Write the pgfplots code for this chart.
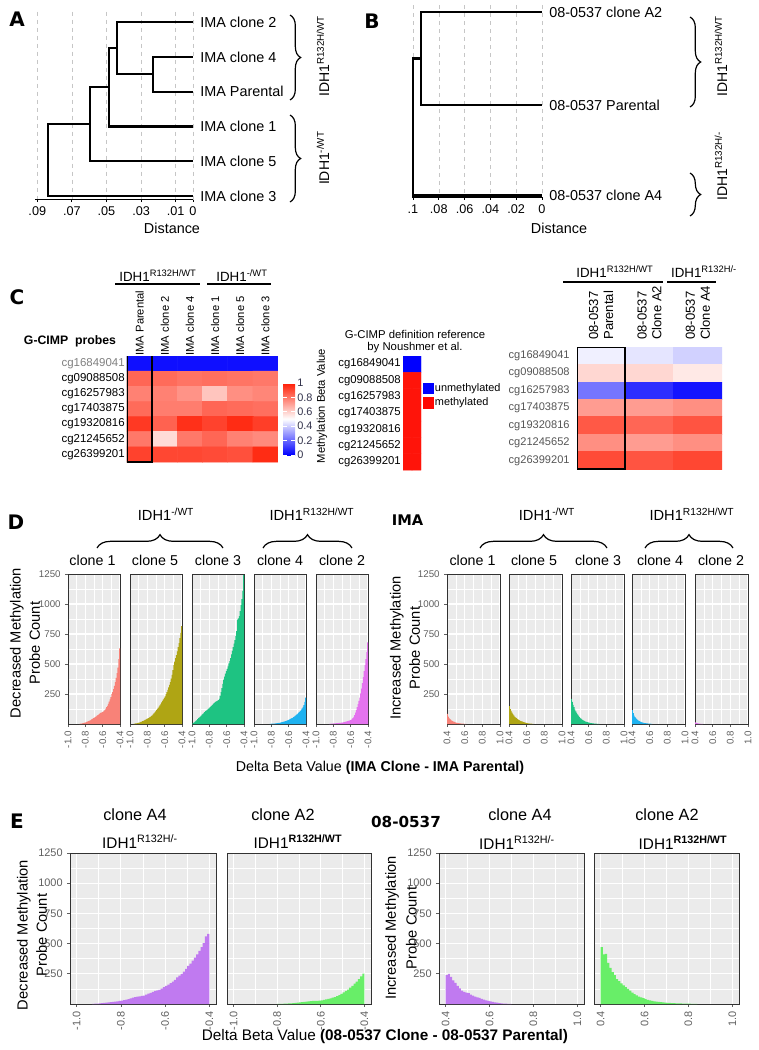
\documentclass[border=0pt]{standalone}
\usepackage{fontspec}
\setmainfont{Liberation Sans}
\newfontfamily\dejavu{DejaVu Sans}
\usepackage{pgfplots}
\pgfplotsset{compat=1.18}
\usetikzlibrary{decorations.pathreplacing}
\definecolor{ggbg}{RGB}{235,235,235}
\definecolor{ggframe}{RGB}{50,50,50}
\definecolor{ggtext}{RGB}{95,95,95}
\definecolor{cbtext}{RGB}{50,50,75}
\definecolor{rowgray}{RGB}{85,85,85}
\definecolor{c1}{RGB}{248,130,120}
\definecolor{c5}{RGB}{175,165,20}
\definecolor{c3}{RGB}{30,195,130}
\definecolor{c4}{RGB}{30,178,240}
\definecolor{c2}{RGB}{228,115,238}
\definecolor{cA4}{RGB}{192,122,240}
\definecolor{cA2}{RGB}{104,238,104}
\pgfplotsset{colormap={bwr}{rgb255=(0,0,255) rgb255=(255,255,255) rgb255=(255,30,5)}}
\pgfplotsset{colormap={refbr}{rgb255=(0,0,255) rgb255=(255,20,10)}}
\newcommand\fs[1]{\fontsize{#1}{#1}\selectfont}
\pgfplotsset{
 ggbase/.style={scale only axis, anchor=south west, axis background/.style={fill=ggbg},
   grid=both, major grid style={draw=white, line width=0.8pt}, minor grid style={draw=white, line width=0.4pt},
   axis line style={draw=ggframe, line width=0.7pt}, tick style={draw=ggtext, line width=0.5pt},
   tick align=outside, tick pos=left, major tick length=2pt, minor tick length=0pt, scaled ticks=false,
   ymin=0, ymax=1250, ytick={250,500,750,1000,1250}, minor ytick={125,375,625,875,1125},
   yticklabels={}, ytick style={draw=none}},
 decx/.style={xmin=-1, xmax=-0.4, xtick={-1,-0.8,-0.6,-0.4}, xticklabels={-1.0,-0.8,-0.6,-0.4}, minor xtick={-0.9,-0.7,-0.5}},
 incx/.style={xmin=0.4, xmax=1, xtick={0.4,0.6,0.8,1}, xticklabels={0.4,0.6,0.8,1.0}, minor xtick={0.5,0.7,0.9}},
 decxE/.style={xmin=-1.03, xmax=-0.37, xtick={-1,-0.8,-0.6,-0.4}, xticklabels={-1.0,-0.8,-0.6,-0.4}, minor xtick={-0.9,-0.7,-0.5}},
 incxE/.style={xmin=0.37, xmax=1.03, xtick={0.4,0.6,0.8,1}, xticklabels={0.4,0.6,0.8,1.0}, minor xtick={0.5,0.7,0.9}},
 dpan/.style={ggbase, height=112.5pt, xticklabel style={rotate=90, anchor=east, font=\fs{7.3}, text=ggtext}, yticklabel style={font=\fs{7.3}, text=ggtext}},
 epan/.style={ggbase, height=113.25pt, xticklabel style={rotate=90, anchor=east, font=\fs{8.2}, text=ggtext}, yticklabel style={font=\fs{8.2}, text=ggtext}},
 ylab/.style={yticklabels={250,500,750,1000,1250}, ytick style={draw=ggtext}},
 hist/.style={const plot, fill=#1, draw=none, mark=none, forget plot},
 dendro/.style={scale only axis, anchor=south west, clip=false, x dir=reverse, y dir=reverse, scaled ticks=false,
   axis x line*=bottom, axis y line*=right, y axis line style={draw=none}, x axis line style={line width=0.9pt},
   ytick style={draw=none}, xtick style={draw=black, line width=0.6pt}, tick align=outside, major tick length=2pt,
   xmajorgrids, major grid style={dashed, draw=gray!45, line width=0.4pt},
   xticklabel style={font=\fs{9.5}}, yticklabel style={anchor=west, font=\fs{10.8}}},
 heat/.style={scale only axis, anchor=south west, y dir=reverse, axis line style={draw=none}, major tick length=0pt,
   xticklabel pos=upper, colormap name=bwr, point meta min=0, point meta max=1, enlargelimits=false},
}
\begin{document}
\begin{tikzpicture}[x=0.75pt, y=-0.75pt]
% anchor points for the axes (pixel positions of lower-left corners)
\coordinate (pA) at (34.7,199.5);
\coordinate (pB) at (412.2,197);
\coordinate (pH1) at (127,462);
\coordinate (pRef) at (403,470);
\coordinate (pH2) at (577,469);
\coordinate (d1) at (68,724);
\coordinate (d2) at (130,724);
\coordinate (d3) at (192,724);
\coordinate (d4) at (254,724);
\coordinate (d5) at (316,724);
\coordinate (d6) at (447,724);
\coordinate (d7) at (509,724);
\coordinate (d8) at (571,724);
\coordinate (d9) at (632,724);
\coordinate (d10) at (695,724);
\coordinate (e1) at (70,1004);
\coordinate (e2) at (227,1004);
\coordinate (e3) at (439,1004);
\coordinate (e4) at (594,1004);
% ---------------- Panel A ----------------
\begin{axis}[dendro, at={(pA)}, width=118.7pt, height=140.9pt, xmin=0, xmax=0.0915, ymin=-0.3, ymax=5.1,
  xtick={0,0.01,0.03,0.05,0.07,0.09}, xticklabels={0,.01,.03,.05,.07,.09},
  ytick={0,1,2,3,4,5}, yticklabels={IMA clone 2,IMA clone 4,IMA Parental,IMA clone 1,IMA clone 5,IMA clone 3}]
\addplot[black, line width=1.6pt, mark=none] coordinates {(0,1)(0.023,1)(0.023,2)(0,2)};
\addplot[black, line width=1.6pt, mark=none] coordinates {(0,0)(0.044,0)(0.044,1.5)(0.023,1.5)};
\addplot[black, line width=1.6pt, mark=none] coordinates {(0.044,0.75)(0.0485,0.75)(0.0485,3)(0,3)};
\addplot[black, line width=1.6pt, mark=none] coordinates {(0.0485,1.875)(0.0595,1.875)(0.0595,4)(0,4)};
\addplot[black, line width=1.6pt, mark=none] coordinates {(0.0595,2.94)(0.084,2.94)(0.084,5)(0,5)};
\end{axis}
\node[font=\fs{10.8}] at (172,228) {Distance};
\draw[decorate, decoration={brace, amplitude=8pt}, line width=0.9pt] (290,15) -- (290,100);
\draw[decorate, decoration={brace, amplitude=8pt}, line width=0.9pt] (290,115) -- (290,202);
\node[rotate=90, font=\fs{10.5}] at (323,56) {IDH1\textsuperscript{R132H/WT}};
\node[rotate=90, font=\fs{10.5}] at (323,158) {IDH1\textsuperscript{-/WT}};
\node[font=\dejavu\bfseries\fs{15}] at (17,19) {A};
% ---------------- Panel B ----------------
\begin{axis}[dendro, at={(pB)}, width=97.35pt, height=144pt, xmin=0, xmax=0.1006, ymin=5, ymax=197,
  xtick={0,0.02,0.04,0.06,0.08,0.1}, xticklabels={0,.02,.04,.06,.08,.1},
  ytick={12,105,195}, yticklabels={08-0537 clone A2,08-0537 Parental,08-0537 clone A4}]
\addplot[black, line width=1.6pt, mark=none] coordinates {(0,12)(0.094,12)(0.094,105)(0,105)};
\addplot[black, line width=1.6pt, mark=none] coordinates {(0.094,58.5)(0.1,58.5)(0.1,195)(0,195)};
\end{axis}
\node[font=\fs{10.8}] at (559,228) {Distance};
\draw[decorate, decoration={brace, amplitude=8pt}, line width=0.9pt] (690,17) -- (690,107);
\draw[decorate, decoration={brace, amplitude=8pt}, line width=0.9pt] (690,173) -- (690,216);
\node[rotate=90, font=\fs{10.5}] at (721,56) {IDH1\textsuperscript{R132H/WT}};
\node[rotate=90, font=\fs{10.5}] at (721,166) {IDH1\textsuperscript{R132H/-}};
\node[font=\dejavu\bfseries\fs{15}] at (372,21) {B};
% ---------------- Panel C ----------------
\node[font=\dejavu\bfseries\fs{15}] at (17,297) {C};
\node[font=\bfseries\fs{9.2}] at (70,341) {G-CIMP\ \ probes};
\node[font=\fs{10}, anchor=base] at (158,281) {IDH1\textsuperscript{R132H/WT}};
\node[font=\fs{10}, anchor=base] at (242,281) {IDH1\textsuperscript{-/WT}};
\draw[line width=1.3pt] (115,284) -- (200,284);
\draw[line width=1.3pt] (207,284) -- (271,284);
\begin{axis}[heat, at={(pH1)}, width=113.25pt, height=79.5pt, xmin=-0.5, xmax=5.5, ymin=-0.5, ymax=6.5,
  xtick={0,1,2,3,4,5}, xticklabels={IMA Parental,IMA clone 2,IMA clone 4,IMA clone 1,IMA clone 5,IMA clone 3},
  xticklabel style={rotate=90, anchor=west, font=\fs{8.4}, inner sep=1pt}, xticklabel shift=-0.8pt,
  ytick={0,1,2,3,4,5,6}, yticklabels={\textcolor{gray}{cg16849041},cg09088508,cg16257983,cg17403875,cg19320816,cg21245652,cg26399201},
  yticklabel style={font=\fs{8.6}, inner sep=1.5pt},
  colorbar, colorbar style={at={(parent axis.south east)}, anchor=south west, xshift=-4.75pt, yshift=5.25pt,
    width=9pt, height=54pt, y dir=normal, ytick={0,0.2,0.4,0.6,0.8,1}, yticklabels={0,0.2,0.4,0.6,0.8,1},
    yticklabel style={font=\fs{8.2}, text=cbtext, inner sep=1.5pt}, axis line style={draw=none}, major tick length=3pt,
    tick style={draw=white, line width=0.6pt}, tick align=inside}]
\addplot[matrix plot*, mesh/cols=6, point meta=explicit] table[meta=c, row sep=\\] {
x y c\\
0 0 0.03\\ 1 0 0.03\\ 2 0 0.03\\ 3 0 0.03\\ 4 0 0.03\\ 5 0 0.03\\
0 1 0.84\\ 1 1 0.83\\ 2 1 0.81\\ 3 1 0.82\\ 4 1 0.81\\ 5 1 0.80\\
0 2 0.78\\ 1 2 0.78\\ 2 2 0.74\\ 3 2 0.63\\ 4 2 0.75\\ 5 2 0.77\\
0 3 0.83\\ 1 3 0.79\\ 2 3 0.79\\ 3 3 0.84\\ 4 3 0.83\\ 5 3 0.82\\
0 4 0.94\\ 1 4 0.85\\ 2 4 0.96\\ 3 4 0.92\\ 4 4 0.97\\ 5 4 0.93\\
0 5 0.80\\ 1 5 0.58\\ 2 5 0.80\\ 3 5 0.84\\ 4 5 0.78\\ 5 5 0.76\\
0 6 0.92\\ 1 6 0.91\\ 2 6 0.91\\ 3 6 0.90\\ 4 6 0.89\\ 5 6 0.97\\
};
\draw[line width=1.3pt] (axis cs:-0.5,-0.75) rectangle (axis cs:0.5,6.5);
\end{axis}
\node[rotate=90, font=\fs{8.4}] at (322,406) {Methylation Beta Value};
% reference bar
\node[font=\fs{8.5}] at (415,334) {G-CIMP definition reference};
\node[font=\fs{8.5}] at (415,348) {by Noushmer et al.};
\begin{axis}[heat, at={(pRef)}, width=13.5pt, height=85.5pt, xmin=-0.5, xmax=1.5, ymin=-0.5, ymax=6.5,
  colormap name=refbr, xtick=\empty,
  ytick={0,1,2,3,4,5,6}, yticklabels={cg16849041,cg09088508,cg16257983,cg17403875,cg19320816,cg21245652,cg26399201},
  yticklabel style={font=\fs{8.5}, inner sep=1.5pt}]
\addplot[matrix plot*, mesh/cols=2, point meta=explicit] table[meta=c, row sep=\\] {
x y c\\
0 0 0\\ 1 0 0\\ 0 1 1\\ 1 1 1\\ 0 2 1\\ 1 2 1\\ 0 3 1\\ 1 3 1\\ 0 4 1\\ 1 4 1\\ 0 5 1\\ 1 5 1\\ 0 6 1\\ 1 6 1\\
};
\end{axis}
\fill[blue] (423,383) rectangle (434,394);
\fill[red!95!orange] (423,397) rectangle (434,409);
\node[anchor=west, font=\fs{8.2}, inner sep=0.5pt] at (434,389) {unmethylated};
\node[anchor=west, font=\fs{8.2}, inner sep=0.5pt] at (434,403) {methylated};
% right heatmap
\node[font=\fs{10}, anchor=base] at (615,277) {IDH1\textsuperscript{R132H/WT}};
\node[font=\fs{10}, anchor=base] at (704,277) {IDH1\textsuperscript{R132H/-}};
\draw[line width=1.3pt] (563,282) -- (663,282);
\draw[line width=1.3pt] (667,282) -- (716,282);
\begin{axis}[heat, at={(pH2)}, width=108.75pt, height=91.5pt, xmin=-0.5, xmax=2.5, ymin=-0.5, ymax=6.5,
  xtick={0,1,2}, xticklabels={{08-0537\\Parental},{08-0537\\Clone A2},{08-0537\\Clone A4}},
  xticklabel style={rotate=90, anchor=west, align=left, font=\fontsize{9.8}{11.2}\selectfont}, xticklabel shift=2pt,
  ytick={0,1,2,3,4,5,6}, yticklabels={cg16849041,cg09088508,cg16257983,cg17403875,cg19320816,cg21245652,cg26399201},
  yticklabel style={font=\fs{8.3}, text=rowgray}, yticklabel shift=2pt]
\addplot[matrix plot*, mesh/cols=3, point meta=explicit] table[meta=c, row sep=\\] {
x y c\\
0 0 0.47\\ 1 0 0.45\\ 2 0 0.41\\
0 1 0.59\\ 1 1 0.59\\ 2 1 0.55\\
0 2 0.23\\ 1 2 0.09\\ 2 2 0.04\\
0 3 0.72\\ 1 3 0.72\\ 2 3 0.75\\
0 4 0.87\\ 1 4 0.84\\ 2 4 0.88\\
0 5 0.75\\ 1 5 0.72\\ 2 5 0.75\\
0 6 0.90\\ 1 6 0.88\\ 2 6 0.91\\
};
\draw[line width=1.3pt] (axis cs:-0.5,-0.5) rectangle (axis cs:0.5,6.5);
\end{axis}
% ---------------- Panel D ----------------
\node[font=\dejavu\bfseries\fs{15}] at (16,522) {D};
\node[font=\dejavu\bfseries\fs{11}] at (407.5,520) {IMA};
\node[rotate=90, align=center, font=\fontsize{11}{14.3}\selectfont] at (25,643) {Decreased Methylation\\Probe Count};
\node[rotate=90, align=center, font=\fontsize{11}{14.3}\selectfont] at (405,648) {Increased Methylation\\Probe Count};
\foreach \xx/\tt in {92.5/clone 1,155/clone 5,218/clone 3,280/clone 4,342/clone 2,472.5/clone 1,534/clone 5,598/clone 3,660/clone 4,721/clone 2}
  {\node[font=\fs{10.7}, anchor=base] at (\xx,565) {\tt};}
\draw[decorate, decoration={brace, amplitude=10pt}, line width=0.9pt] (97,548) -- (223,548);
\draw[decorate, decoration={brace, amplitude=10pt}, line width=0.9pt] (263,548) -- (352,548);
\draw[decorate, decoration={brace, amplitude=10pt}, line width=0.9pt] (480,548) -- (607,548);
\draw[decorate, decoration={brace, amplitude=10pt}, line width=0.9pt] (645,548) -- (733,548);
\node[font=\fs{11}] at (166,514) {IDH1\textsuperscript{-/WT}};
\node[font=\fs{11}] at (312,514) {IDH1\textsuperscript{R132H/WT}};
\node[font=\fs{11}] at (547,514) {IDH1\textsuperscript{-/WT}};
\node[font=\fs{11}] at (692,514) {IDH1\textsuperscript{R132H/WT}};
\node[font=\fs{10.7}] at (380,768) {Delta Beta Value \textbf{(IMA Clone - IMA Parental)}};
% decreased
\begin{axis}[dpan, decx, ylab, width=39pt, at={(d1)}]
\addplot[hist=c1] coordinates {(-0.87,2)(-0.86,3)(-0.85,4)(-0.84,6)(-0.83,8)(-0.82,9)(-0.81,12)(-0.80,14)(-0.79,17)(-0.78,20)(-0.77,24)(-0.76,27)(-0.75,31)(-0.74,35)(-0.73,40)(-0.72,44)(-0.71,48)(-0.70,54)(-0.69,58)(-0.68,64)(-0.67,70)(-0.66,75)(-0.65,80)(-0.64,86)(-0.63,92)(-0.62,95)(-0.61,98)(-0.60,104)(-0.59,110)(-0.58,118)(-0.57,128)(-0.56,140)(-0.55,152)(-0.54,168)(-0.53,186)(-0.52,205)(-0.51,225)(-0.50,248)(-0.49,265)(-0.48,290)(-0.47,318)(-0.46,350)(-0.45,385)(-0.44,425)(-0.43,470)(-0.42,540)(-0.41,630)(-0.40,630)} \closedcycle;
\end{axis}
\begin{axis}[dpan, decx, width=39pt, at={(d2)}]
\addplot[hist=c5] coordinates {(-0.96,2)(-0.95,3)(-0.94,5)(-0.93,6)(-0.92,8)(-0.91,10)(-0.90,12)(-0.89,14)(-0.88,17)(-0.87,20)(-0.86,24)(-0.85,27)(-0.84,31)(-0.83,35)(-0.82,38)(-0.81,42)(-0.80,46)(-0.79,50)(-0.78,55)(-0.77,60)(-0.76,66)(-0.75,72)(-0.74,80)(-0.73,88)(-0.72,96)(-0.71,105)(-0.70,115)(-0.69,124)(-0.68,134)(-0.67,145)(-0.66,156)(-0.65,168)(-0.64,180)(-0.63,193)(-0.62,206)(-0.61,218)(-0.60,230)(-0.59,248)(-0.58,266)(-0.57,285)(-0.56,305)(-0.55,326)(-0.54,350)(-0.53,378)(-0.52,410)(-0.51,448)(-0.50,490)(-0.49,520)(-0.48,548)(-0.47,575)(-0.46,605)(-0.45,640)(-0.44,675)(-0.43,715)(-0.42,760)(-0.41,815)(-0.40,815)} \closedcycle;
\end{axis}
\begin{axis}[dpan, decx, width=39pt, at={(d3)}]
\addplot[hist=c3] coordinates {(-1.00,3)(-0.99,8)(-0.98,14)(-0.97,20)(-0.96,26)(-0.95,32)(-0.94,40)(-0.93,48)(-0.92,55)(-0.91,62)(-0.90,70)(-0.89,78)(-0.88,85)(-0.87,92)(-0.86,100)(-0.85,108)(-0.84,112)(-0.83,118)(-0.82,124)(-0.81,130)(-0.80,138)(-0.79,145)(-0.78,152)(-0.77,160)(-0.76,168)(-0.75,175)(-0.74,182)(-0.73,186)(-0.72,190)(-0.71,195)(-0.70,200)(-0.69,210)(-0.68,235)(-0.67,265)(-0.66,300)(-0.65,335)(-0.64,370)(-0.63,395)(-0.62,420)(-0.61,440)(-0.60,460)(-0.59,480)(-0.58,505)(-0.57,525)(-0.56,550)(-0.55,580)(-0.54,610)(-0.53,640)(-0.52,670)(-0.51,700)(-0.50,735)(-0.49,775)(-0.48,870)(-0.47,880)(-0.46,900)(-0.45,940)(-0.44,990)(-0.43,1040)(-0.42,1110)(-0.41,1240)(-0.40,1240)} \closedcycle;
\end{axis}
\begin{axis}[dpan, decx, width=39pt, at={(d4)}]
\addplot[hist=c4] coordinates {(-0.82,2)(-0.81,2)(-0.80,3)(-0.79,3)(-0.78,4)(-0.77,4)(-0.76,5)(-0.75,6)(-0.74,7)(-0.73,8)(-0.72,9)(-0.71,10)(-0.70,12)(-0.69,13)(-0.68,15)(-0.67,17)(-0.66,19)(-0.65,21)(-0.64,24)(-0.63,27)(-0.62,30)(-0.61,33)(-0.60,36)(-0.59,40)(-0.58,44)(-0.57,48)(-0.56,52)(-0.55,57)(-0.54,62)(-0.53,68)(-0.52,74)(-0.51,80)(-0.50,87)(-0.49,94)(-0.48,102)(-0.47,110)(-0.46,120)(-0.45,130)(-0.44,142)(-0.43,158)(-0.42,185)(-0.41,220)(-0.40,220)} \closedcycle;
\end{axis}
\begin{axis}[dpan, decx, width=39pt, at={(d5)}]
\addplot[hist=c2] coordinates {(-0.85,2)(-0.84,2)(-0.83,3)(-0.82,3)(-0.81,4)(-0.80,5)(-0.79,5)(-0.78,6)(-0.77,7)(-0.76,7)(-0.75,8)(-0.74,9)(-0.73,10)(-0.72,10)(-0.71,11)(-0.70,12)(-0.69,14)(-0.68,16)(-0.67,18)(-0.66,20)(-0.65,22)(-0.64,24)(-0.63,26)(-0.62,29)(-0.61,32)(-0.60,35)(-0.59,42)(-0.58,50)(-0.57,60)(-0.56,75)(-0.55,95)(-0.54,115)(-0.53,140)(-0.52,165)(-0.51,192)(-0.50,220)(-0.49,255)(-0.48,295)(-0.47,340)(-0.46,390)(-0.45,440)(-0.44,490)(-0.43,540)(-0.42,600)(-0.41,680)(-0.40,680)} \closedcycle;
\end{axis}
% increased
\begin{axis}[dpan, incx, ylab, width=39.75pt, at={(d6)}]
\addplot[hist=c1] coordinates {(0.40,85)(0.41,62)(0.42,48)(0.43,40)(0.44,34)(0.45,28)(0.46,24)(0.47,20)(0.48,17)(0.49,14)(0.50,12)(0.51,10)(0.52,8)(0.53,7)(0.54,6)(0.55,5)(0.56,4)(0.57,3)(0.58,3)(0.59,2)(0.60,2)(0.61,1)(0.62,1)} \closedcycle;
\end{axis}
\begin{axis}[dpan, incx, width=39.75pt, at={(d7)}]
\addplot[hist=c5] coordinates {(0.40,150)(0.41,125)(0.42,110)(0.43,95)(0.44,82)(0.45,72)(0.46,62)(0.47,55)(0.48,48)(0.49,42)(0.50,38)(0.51,33)(0.52,29)(0.53,25)(0.54,22)(0.55,19)(0.56,16)(0.57,13)(0.58,11)(0.59,9)(0.60,8)(0.61,6)(0.62,5)(0.63,4)(0.64,3)(0.65,3)(0.66,2)(0.67,2)(0.68,2)} \closedcycle;
\end{axis}
\begin{axis}[dpan, incx, width=39.75pt, at={(d8)}]
\addplot[hist=c3] coordinates {(0.40,210)(0.41,185)(0.42,160)(0.43,140)(0.44,120)(0.45,105)(0.46,92)(0.47,80)(0.48,70)(0.49,60)(0.50,52)(0.51,45)(0.52,38)(0.53,33)(0.54,28)(0.55,24)(0.56,20)(0.57,17)(0.58,15)(0.59,13)(0.60,11)(0.61,9)(0.62,8)(0.63,7)(0.64,6)(0.65,5)(0.66,4)(0.67,3)(0.68,3)(0.69,2)(0.70,2)(0.71,1)(0.72,1)} \closedcycle;
\end{axis}
\begin{axis}[dpan, incx, width=39.75pt, at={(d9)}]
\addplot[hist=c4] coordinates {(0.40,115)(0.41,90)(0.42,70)(0.43,58)(0.44,48)(0.45,40)(0.46,33)(0.47,28)(0.48,24)(0.49,20)(0.50,17)(0.51,14)(0.52,12)(0.53,10)(0.54,8)(0.55,7)(0.56,6)(0.57,5)(0.58,4)(0.59,3)(0.60,3)(0.61,2)(0.62,2)(0.63,2)} \closedcycle;
\end{axis}
\begin{axis}[dpan, incx, width=39.75pt, at={(d10)}]
\addplot[hist=c2] coordinates {(0.40,14)(0.41,10)(0.42,7)(0.43,5)(0.44,4)(0.45,3)(0.46,2)(0.47,2)(0.48,1)(0.49,1)} \closedcycle;
\end{axis}
% ---------------- Panel E ----------------
\node[font=\dejavu\bfseries\fs{15}] at (17,821) {E};
\node[font=\dejavu\bfseries\fs{11.4}] at (406,822) {08-0537};
\node[rotate=90, align=center, font=\fontsize{11}{14.3}\selectfont] at (32,935) {Decreased Methylation\\Probe Count};
\node[rotate=90, align=center, font=\fontsize{11}{15.5}\selectfont] at (401,928) {Increased Methylation\\Probe Count};
\node[font=\fs{12.2}] at (135,815) {clone A4};
\node[font=\fs{12.2}] at (283,815) {clone A2};
\node[font=\fs{12.2}] at (520,815) {clone A4};
\node[font=\fs{12.2}] at (667,815) {clone A2};
\node[font=\fs{11.5}] at (140,842) {IDH1\textsuperscript{R132H/-}};
\node[font=\fs{11.5}] at (298,842) {IDH1\textsuperscript{\textbf{R132H/WT}}};
\node[font=\fs{11.5}] at (517,843) {IDH1\textsuperscript{R132H/-}};
\node[font=\fs{11.5}] at (683,843) {IDH1\textsuperscript{\textbf{R132H/WT}}};
\node[font=\fs{11.5}] at (385,1037) {Delta Beta Value \textbf{(08-0537 Clone - 08-0537 Parental)}};
\begin{axis}[epan, decxE, ylab, width=109.5pt, at={(e1)}]
\addplot[hist=cA4] coordinates {(-0.93,2)(-0.92,3)(-0.91,4)(-0.90,5)(-0.89,7)(-0.88,9)(-0.87,11)(-0.86,13)(-0.85,15)(-0.84,17)(-0.83,20)(-0.82,22)(-0.81,25)(-0.80,28)(-0.79,32)(-0.78,36)(-0.77,40)(-0.76,46)(-0.75,52)(-0.74,58)(-0.73,62)(-0.72,64)(-0.71,67)(-0.70,70)(-0.69,78)(-0.68,85)(-0.67,92)(-0.66,100)(-0.65,108)(-0.64,112)(-0.63,118)(-0.62,128)(-0.61,140)(-0.60,150)(-0.59,160)(-0.58,172)(-0.57,185)(-0.56,200)(-0.55,220)(-0.54,235)(-0.53,250)(-0.52,268)(-0.51,290)(-0.50,315)(-0.49,335)(-0.48,360)(-0.47,385)(-0.46,410)(-0.45,440)(-0.44,470)(-0.43,505)(-0.42,560)(-0.41,580)(-0.40,580)} \closedcycle;
\end{axis}
\begin{axis}[epan, decxE, width=108pt, at={(e2)}]
\addplot[hist=cA2] coordinates {(-0.80,1)(-0.79,2)(-0.78,2)(-0.77,3)(-0.76,4)(-0.75,5)(-0.74,6)(-0.73,8)(-0.72,10)(-0.71,12)(-0.70,14)(-0.69,16)(-0.68,18)(-0.67,20)(-0.66,22)(-0.65,24)(-0.64,25)(-0.63,26)(-0.62,27)(-0.61,28)(-0.60,30)(-0.59,34)(-0.58,38)(-0.57,42)(-0.56,47)(-0.55,52)(-0.54,58)(-0.53,65)(-0.52,73)(-0.51,84)(-0.50,96)(-0.49,108)(-0.48,120)(-0.47,135)(-0.46,150)(-0.45,168)(-0.44,185)(-0.43,205)(-0.42,228)(-0.41,252)(-0.40,252)} \closedcycle;
\end{axis}
\begin{axis}[epan, incxE, ylab, width=108.75pt, at={(e3)}]
\addplot[hist=cA4] coordinates {(0.40,240)(0.41,250)(0.42,225)(0.43,195)(0.44,175)(0.45,150)(0.46,130)(0.47,110)(0.48,100)(0.49,95)(0.50,90)(0.51,78)(0.52,70)(0.53,62)(0.54,55)(0.55,50)(0.56,42)(0.57,36)(0.58,30)(0.59,25)(0.60,22)(0.61,18)(0.62,14)(0.63,11)(0.64,8)(0.65,6)(0.66,4)(0.67,3)(0.68,2)(0.69,1)(0.70,1)} \closedcycle;
\end{axis}
\begin{axis}[epan, incxE, width=108.75pt, at={(e4)}]
\addplot[hist=cA2] coordinates {(0.40,470)(0.41,410)(0.42,415)(0.43,340)(0.44,300)(0.45,265)(0.46,240)(0.47,205)(0.48,190)(0.49,170)(0.50,155)(0.51,140)(0.52,125)(0.53,110)(0.54,95)(0.55,82)(0.56,72)(0.57,62)(0.58,55)(0.59,48)(0.60,40)(0.61,35)(0.62,30)(0.63,26)(0.64,22)(0.65,19)(0.66,17)(0.67,15)(0.68,13)(0.69,11)(0.70,10)(0.71,9)(0.72,8)(0.73,7)(0.74,6)(0.75,5)(0.76,5)(0.77,4)(0.78,4)(0.79,3)(0.80,3)(0.81,2)(0.82,2)(0.83,1)(0.84,1)} \closedcycle;
\end{axis}
\pgfresetboundingbox
\path[use as bounding box] (0,0) rectangle (758,1050);
\end{tikzpicture}
\end{document}
